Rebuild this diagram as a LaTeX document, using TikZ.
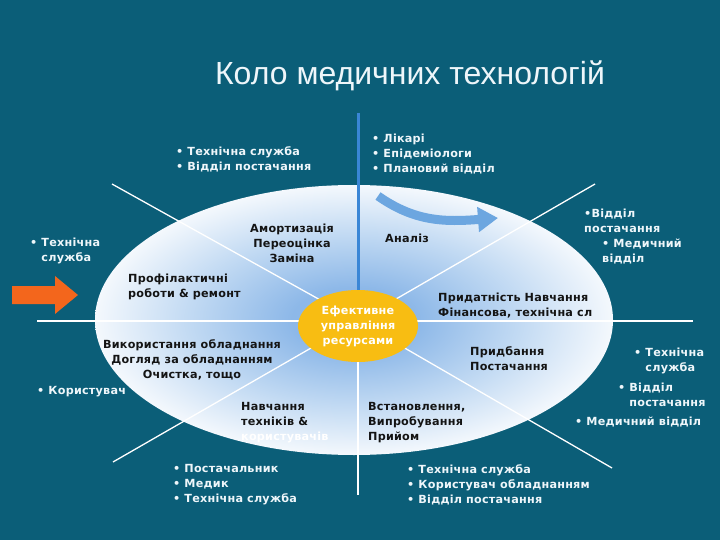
\documentclass[tikz,border=0pt]{standalone}
\usepackage{fontspec}
\setmainfont{DejaVu Sans}
\newfontfamily\titlefont{Liberation Sans}
\newfontfamily\labelfont[LetterSpace=2]{DejaVu Sans}
\usetikzlibrary{shapes.geometric, arrows.meta, positioning}
\definecolor{DeepTeal}{HTML}{0B5E78}
\definecolor{PaleBlue}{HTML}{8DB8E8}
\definecolor{MistBlue}{HTML}{C2DAF3}
\definecolor{SunYellow}{HTML}{F8BD12}
\definecolor{FlameOrange}{HTML}{F3661C}
\definecolor{SkyBlue}{HTML}{6CA6E0}
\definecolor{RodBlue}{HTML}{3A86D6}
\definecolor{InkDark}{HTML}{141414}
\definecolor{Snow}{HTML}{EEF6FA}
\pgfdeclareradialshading{lensglow}{\pgfpoint{0bp}{0bp}}{%
    color(0bp)=(PaleBlue); color(6bp)=(PaleBlue); color(16bp)=(MistBlue);
    color(27bp)=(white); color(50bp)=(white)}

\begin{document}
\begin{tikzpicture}[x=1pt, y=-1pt,
    outlabel/.style={inner sep=0pt, anchor=north west, align=left, text=Snow,
                     font=\labelfont\fontsize{11.2}{15}\selectfont\bfseries},
    inlabel/.style={outlabel, text=InkDark},
    spoke/.style={draw=white, line width=1.3pt},
    rod/.style={draw=RodBlue, line width=3pt},
    sweep/.style={draw=SkyBlue, line width=9pt,
                  -{Triangle[width=24pt, length=20pt]}},
    lens/.style={ellipse, inner sep=0pt, minimum width=518pt, minimum height=270pt,
                 shading=lensglow},
    core/.style={ellipse, inner sep=0pt, minimum width=120pt, minimum height=72pt,
                 fill=SunYellow, text=white, align=center,
                 font=\labelfont\fontsize{11.2}{15}\selectfont\bfseries}
]
    % Background and frame
    \fill[DeepTeal] (0,0) rectangle (720,540);
    \useasboundingbox (0,0) rectangle (720,540);

    \node[text=Snow, anchor=base, font=\titlefont\fontsize{32}{38}\selectfont]
        (title) at (410,85) {Коло медичних технологій};

    % The big circle
    \node[lens] (lens) at (354,320) {};

    % Spokes
    \coordinate (hub) at (358,321);
    \coordinate (nUp) at (358,113);
    \coordinate (nUL) at (112,184);
    \coordinate (nUR) at (595,184);
    \coordinate (nL) at (37,321);
    \coordinate (nR) at (693,321);
    \coordinate (nDL) at (113,462);
    \coordinate (nDR) at (612,468);
    \coordinate (nDn) at (358,495);
    \foreach \e in {nUL,nUR,nL,nR,nDL,nDR,nDn}
        \draw[spoke] (hub) -- (\e);
    \draw[rod] (hub) -- (nUp);

    % Analysis sweep
    \coordinate (sweepA) at (378,196);
    \coordinate (sweepB) at (498,218);
    \draw[sweep] (sweepA) .. controls (415,222) and (445,222) .. (sweepB);

    % Centre
    \node[core] (core) at (358,326) {Ефективне\\управління\\ресурсами};

    % Labels inside the circle
    \node[inlabel, anchor=north, align=center] (deprec) at (292,224)
        {Амортизація\\Переоцінка\\Заміна};
    \node[inlabel] (analysis) at (385,234) {Аналіз};
    \node[inlabel] (repair) at (128,274) {Профілактичні\\роботи \& ремонт};
    \node[inlabel] (fitness) at (438,293) {Придатність Навчання\\Фінансова, технічна сл};
    \node[inlabel, anchor=north, align=center] (usage) at (192,339)
        {Використання обладнання\\Догляд за обладнанням\\Очистка, тощо};
    \node[inlabel] (purchase) at (470,346) {Придбання\\Постачання};
    \node[inlabel] (training) at (241,402)
        {Навчання\\техніків \&\\\textcolor{white}{користувачів}};
    \node[inlabel] (install) at (368,402) {Встановлення,\\Випробування\\Прийом};

    % Labels outside the circle
    \node[outlabel] (srvTL) at (176,146) {• Технічна служба\\• Відділ постачання};
    \node[outlabel] (docTop) at (372,134) {• Лікарі\\• Епідеміологи\\• Плановий відділ};
    \node[outlabel] (srvL) at (30,238) {• Технічна\\\phantom{• }служба};
    \node[outlabel] (supTR) at (584,209) {•Відділ\\постачання};
    \node[outlabel] (medTR) at (602,239) {• Медичний\\відділ};
    \node[outlabel] (srvR) at (634,348) {• Технічна\\\phantom{• }служба};
    \node[outlabel] (supR) at (618,383) {• Відділ\\\phantom{• }постачання};
    \node[outlabel] (medR) at (575,417) {• Медичний відділ};
    \node[outlabel] (user) at (37,386) {• Користувач};
    \node[outlabel] (suppB) at (173,464) {• Постачальник\\• Медик\\• Технічна служба};
    \node[outlabel] (srvB) at (407,464)
        {• Технічна служба\\• Користувач обладнанням\\• Відділ постачання};

    % Orange pointer
    \fill[FlameOrange] (12,286) -- (55,286) -- (55,276) -- (78,295) -- (55,314)
        -- (55,304) -- (12,304) -- cycle;
\end{tikzpicture}
\end{document}
